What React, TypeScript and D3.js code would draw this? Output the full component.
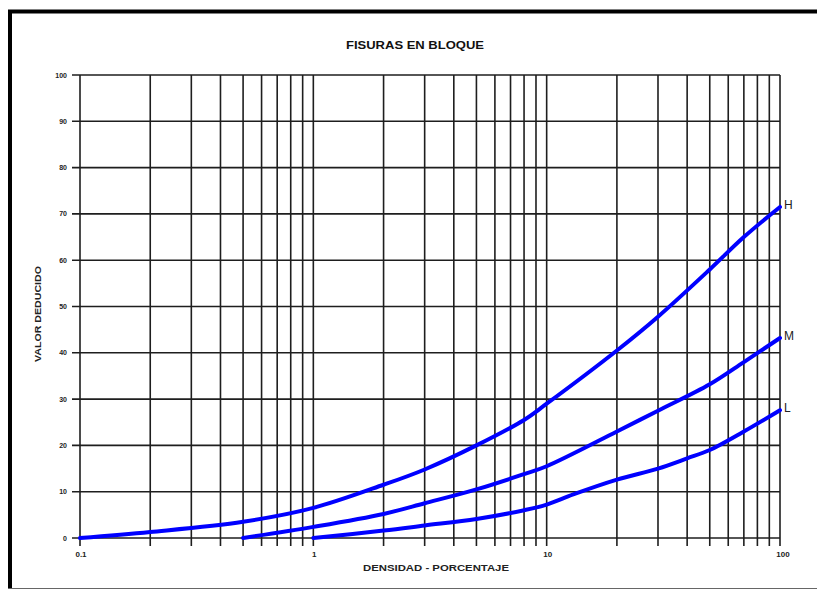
import React, { useEffect, useRef } from "react";
import * as d3 from "d3";

// densidad (%) vs valor deducido
const hDensity = [0.1, 0.2, 0.5, 1, 2, 3, 5, 8, 10, 20, 30, 50, 70, 100];
const hValue = [0, 1.3, 3.5, 6.5, 11.5, 14.8, 20, 25.5, 29, 40.5, 47.8, 58, 65, 71.5];

const mDensity = [0.5, 1, 2, 3, 5, 8, 10, 20, 30, 50, 70, 100];
const mValue = [0, 2.4, 5.2, 7.5, 10.5, 13.8, 15.5, 23, 27.5, 33.2, 38, 43.2];

const lDensity = [1, 2, 3, 5, 8, 10, 13, 20, 30, 40, 50, 70, 100];
const lValue = [0, 1.6, 2.7, 4.1, 6, 7.2, 9.4, 12.6, 15, 17.2, 19, 23, 27.6];

const seriesNames = ["H", "M", "L"];
const yTicks = [0, 10, 20, 30, 40, 50, 60, 70, 80, 90, 100];
const xLabels = [0.1, 1, 10, 100];

const W = 817;
const H = 590;

const App = () => {
  const ref = useRef<SVGSVGElement>(null);

  useEffect(() => {
    const svg = d3.select(ref.current);
    svg.selectAll("*").remove();

    const x = d3.scaleLog().domain([0.1, 100]).range([80, 780]);
    const y = d3.scaleLinear().domain([0, 100]).range([538, 75]);

    // frame
    svg.append("line").attr("x1", 8).attr("x2", W).attr("y1", 11.5).attr("y2", 11.5)
      .attr("stroke", "#000").attr("stroke-width", 4);
    svg.append("line").attr("x1", 10).attr("x2", 10).attr("y1", 10).attr("y2", 588)
      .attr("stroke", "#000").attr("stroke-width", 4);
    svg.append("line").attr("x1", 8).attr("x2", W).attr("y1", 588.5).attr("y2", 588.5)
      .attr("stroke", "#666").attr("stroke-width", 1);

    // vertical grid: every 1..9 in each decade
    const xGrid: number[] = [];
    [0.1, 1, 10].forEach((dec) => {
      for (let i = 1; i < 10; i++) xGrid.push(+(dec * i).toPrecision(3));
    });
    xGrid.push(100);

    const grid = svg.append("g").attr("stroke", "#1e1e1e").attr("stroke-width", 1.6);
    grid.selectAll(".vx").data(xGrid).enter().append("line")
      .attr("x1", (d) => x(d)).attr("x2", (d) => x(d))
      .attr("y1", y(100)).attr("y2", y(0) + 8);
    grid.selectAll(".hy").data(yTicks).enter().append("line")
      .attr("x1", x(0.1) - 8).attr("x2", x(100))
      .attr("y1", (d) => y(d)).attr("y2", (d) => y(d));

    // tick labels
    svg.append("g").selectAll("text").data(yTicks).enter().append("text")
      .attr("x", 67).attr("y", (d) => y(d) + 2.5)
      .attr("text-anchor", "end")
      .attr("font-family", "Liberation Sans, Arial, sans-serif")
      .attr("font-size", 7).attr("font-weight", "bold").attr("fill", "#222")
      .text((d) => d);

    svg.append("g").selectAll("text").data(xLabels).enter().append("text")
      .attr("x", (d) => x(d) + (d === 100 ? 3 : 1)).attr("y", 557)
      .attr("text-anchor", "middle")
      .attr("font-family", "Liberation Sans, Arial, sans-serif")
      .attr("font-size", 8).attr("font-weight", "bold").attr("fill", "#222")
      .text((d) => d);

    // titles
    svg.append("text").attr("x", 415).attr("y", 49)
      .attr("text-anchor", "middle")
      .attr("font-family", "Liberation Sans, Arial, sans-serif")
      .attr("font-size", 10).attr("font-weight", "bold").attr("fill", "#111")
      .attr("textLength", 138).attr("lengthAdjust", "spacingAndGlyphs")
      .text("FISURAS EN BLOQUE");

    svg.append("text").attr("x", 436).attr("y", 571)
      .attr("text-anchor", "middle")
      .attr("font-family", "Liberation Sans, Arial, sans-serif")
      .attr("font-size", 9).attr("font-weight", "bold").attr("fill", "#222")
      .attr("textLength", 146).attr("lengthAdjust", "spacingAndGlyphs")
      .text("DENSIDAD - PORCENTAJE");

    svg.append("text")
      .attr("transform", `translate(41, 314) rotate(-90)`)
      .attr("text-anchor", "middle")
      .attr("font-family", "Liberation Sans, Arial, sans-serif")
      .attr("font-size", 9).attr("font-weight", "bold").attr("fill", "#222")
      .attr("textLength", 96).attr("lengthAdjust", "spacingAndGlyphs")
      .text("VALOR DEDUCIDO");

    // curves
    const series = [
      { name: seriesNames[0], xs: hDensity, ys: hValue },
      { name: seriesNames[1], xs: mDensity, ys: mValue },
      { name: seriesNames[2], xs: lDensity, ys: lValue },
    ];
    const line = d3.line<[number, number]>()
      .x((d) => x(d[0])).y((d) => y(d[1]))
      .curve(d3.curveCatmullRom.alpha(0.5));

    series.forEach((s) => {
      const pts = s.xs.map((v, i) => [v, s.ys[i]] as [number, number]);
      svg.append("path").datum(pts)
        .attr("d", line)
        .attr("fill", "none").attr("stroke", "#0000ff")
        .attr("stroke-width", 4).attr("stroke-linecap", "round");
      const last = pts[pts.length - 1];
      svg.append("text")
        .attr("x", x(last[0]) + 4).attr("y", y(last[1]) + 2)
        .attr("font-family", "Liberation Sans, Arial, sans-serif")
        .attr("font-size", 12).attr("fill", "#222")
        .text(s.name);
    });
  }, []);

  return (
    <svg ref={ref} width={W} height={H}
      style={{ position: "absolute", left: 0, top: 0, background: "#fff" }} />
  );
};

export default App;
